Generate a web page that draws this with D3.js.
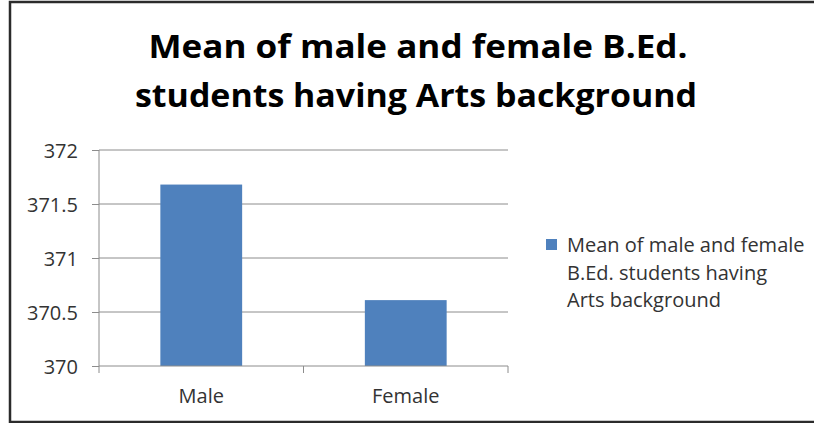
<!DOCTYPE html>
<html>
<head>
<meta charset="utf-8">
<script src="https://cdn.jsdelivr.net/npm/d3@7"></script>
<style>
  html, body { margin: 0; padding: 0; background: #fff; overflow: hidden; }
  svg { display: block; }
</style>
</head>
<body>
<svg id="chart" width="814" height="423"></svg>
<script>
const categories = ["Male", "Female"];
const seriesName = "Mean of male and female B.Ed. students having Arts background";
const values = [371.68, 370.61];
const yTicks = [370, 370.5, 371, 371.5, 372];
const titleLines = ["Mean of male and female B.Ed.", "students having Arts background"];
const legendLines = ["Mean of male and female", "B.Ed. students having", "Arts background"];

const svg = d3.select("#chart");
const font = "'Open Sans', 'Noto Sans', sans-serif";

// frame (left, top, bottom edges)
svg.append("path").attr("d", "M814,2H10V422H814")
  .attr("fill", "none").attr("stroke", "#2b2b2b").attr("stroke-width", 2.5);

// title
const titleSpec = [{cx: 418, y: 58, len: 539}, {cx: 416, y: 107, len: 562}];
svg.append("g").selectAll("text").data(titleLines).join("text")
  .attr("x", (d, i) => titleSpec[i].cx).attr("y", (d, i) => titleSpec[i].y)
  .attr("text-anchor", "middle")
  .attr("textLength", (d, i) => titleSpec[i].len).attr("lengthAdjust", "spacingAndGlyphs")
  .attr("font-family", font).attr("font-weight", "bold").attr("font-size", 33)
  .attr("fill", "#000")
  .text(d => d);

const x0 = 99, x1 = 508, yTop = 150, yBot = 366;
const x = d3.scaleBand().domain(categories).range([x0, x1]).paddingInner(0.6).paddingOuter(0.3);
const y = d3.scaleLinear().domain([370, 372]).range([yBot, yTop]);

// gridlines
svg.append("g").selectAll("line").data(yTicks.filter(t => t !== 370)).join("line")
  .attr("x1", x0).attr("x2", x1)
  .attr("y1", d => y(d)).attr("y2", d => y(d))
  .attr("stroke", "#8c8c8c").attr("stroke-width", 1);

// bars
svg.append("g").selectAll("rect").data(values).join("rect")
  .attr("x", (d, i) => x(categories[i]))
  .attr("y", d => y(d))
  .attr("width", x.bandwidth())
  .attr("height", d => y(370) - y(d))
  .attr("fill", "#4f81bd");

// y axis
const yAxis = d3.axisLeft(y).tickValues(yTicks).tickSize(7).tickPadding(14)
  .tickFormat(d => String(d));
const gy = svg.append("g").attr("transform", `translate(${x0},0)`).call(yAxis);
gy.select(".domain").attr("stroke", "#8c8c8c").attr("d", `M0,${yTop}V${yBot}`);
gy.selectAll(".tick line").attr("stroke", "#8c8c8c");
gy.selectAll(".tick text").attr("x", -21).attr("dy", "0.36em")
  .attr("font-family", font).attr("font-size", 20).attr("fill", "#333");

// x axis
const xAxis = d3.axisBottom(x).tickSize(0);
const gx = svg.append("g").attr("transform", `translate(0,${yBot})`).call(xAxis);
gx.select(".domain").attr("stroke", "#8c8c8c").attr("d", `M${x0},0H${x1}`);
gx.selectAll(".tick text").attr("y", 37).attr("dy", null)
  .attr("font-family", font).attr("font-size", 20).attr("fill", "#333");
// category boundary ticks
gx.append("g").selectAll("line").data([0, 1, 2]).join("line")
  .attr("x1", i => x0 + (x1 - x0) * i / 2).attr("x2", i => x0 + (x1 - x0) * i / 2)
  .attr("y1", 0).attr("y2", 7).attr("stroke", "#8c8c8c");

// legend
const lg = svg.append("g");
lg.append("rect").attr("x", 546).attr("y", 239).attr("width", 11).attr("height", 11).attr("fill", "#4f81bd");
lg.selectAll("text").data(legendLines).join("text")
  .attr("x", 567).attr("y", (d, i) => 252 + i * 27.5)
  .attr("font-family", font).attr("font-size", 20).attr("fill", "#333")
  .text(d => d);
</script>
</body>
</html>
